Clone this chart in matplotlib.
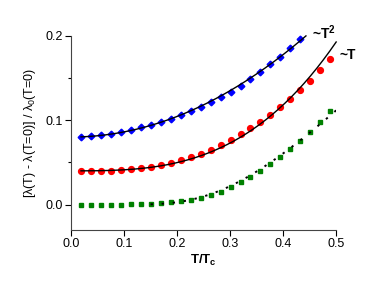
import numpy as np
import matplotlib
matplotlib.use("Agg")
import matplotlib.pyplot as plt

plt.rcParams['font.family'] = ['Liberation Sans', 'DejaVu Sans']
plt.rcParams['mathtext.fontset'] = 'custom'
plt.rcParams['mathtext.rm'] = 'Liberation Sans'
plt.rcParams['mathtext.it'] = 'Liberation Sans:italic'
plt.rcParams['mathtext.bf'] = 'Liberation Sans:bold'

# reduced temperature T/Tc of the data points
t = [0.0188, 0.0376, 0.0564, 0.0752, 0.094, 0.1128, 0.1316, 0.1504, 0.1692,
     0.188, 0.2068, 0.2256, 0.2444, 0.2632, 0.282, 0.3008, 0.3196, 0.3384,
     0.3572, 0.376, 0.3948, 0.4136, 0.4324, 0.4512, 0.47, 0.4888]

blue = [0.0805, 0.0809, 0.082, 0.0836, 0.086, 0.0884, 0.0915, 0.0939, 0.0974,
        0.1014, 0.1057, 0.1108, 0.1157, 0.1213, 0.1272, 0.1337, 0.1408,
        0.1487, 0.1566, 0.1661, 0.1751, 0.185, 0.1957]

red = [0.0398, 0.0398, 0.0398, 0.0402, 0.041, 0.0422, 0.0434, 0.045, 0.0473,
       0.0497, 0.0529, 0.056, 0.0604, 0.065, 0.0706, 0.0765, 0.0832, 0.0903,
       0.0982, 0.1065, 0.1152, 0.1254, 0.1357, 0.1467, 0.1594, 0.172]

green = [0.0, 0.0, 0.0, 0.0, 0.0, 0.0004, 0.0008, 0.0012, 0.002, 0.0028,
         0.004, 0.0055, 0.008, 0.0115, 0.0155, 0.0213, 0.0264, 0.0327,
         0.0398, 0.0477, 0.056, 0.0655, 0.0757, 0.0864, 0.0982, 0.1112]

# fit curves (parameters)
def fit_sq(x):
    return 0.08 + 0.61 * x**2

def fit_cube(x):
    return 0.04 + 1.22 * x**3

def fit_exp(x):
    return 1.28 * np.exp(-1.22 / x)

fig = plt.figure(figsize=(3.82, 2.94), dpi=100)
ax = fig.add_axes([0.186, 0.2177, 0.694, 0.661])

ax.plot(t[:len(blue)], blue, 'D', color='#0000ff', ms=3.4, mec='#0000ff',
        clip_on=False, zorder=2)
ax.plot(t, red, 'o', color='#ff0000', ms=4.2, mec='#ff0000', clip_on=False, zorder=2)
ax.plot(t, green, 's', color='#008000', ms=3.5, mec='#008000', clip_on=False, zorder=2)

x1 = np.linspace(0.0188, 0.443, 200)
ax.plot(x1, fit_sq(x1), '-', color='k', lw=1.0, clip_on=False, zorder=3)
x2 = np.linspace(0.0188, 0.5, 200)
ax.plot(x2, fit_cube(x2), '-', color='k', lw=1.0, clip_on=False, zorder=3)
x3 = np.linspace(0.15, 0.5, 200)
ax.plot(x3, fit_exp(x3), color='k', lw=1.4, dashes=(1.2, 4.5), zorder=3)

ax.text(0.455, 0.203, r'~T$^\mathbf{2}$', fontsize=10, fontweight='bold',
        va='center', ha='left', clip_on=False)
ax.text(0.507, 0.177, '~T', fontsize=10, fontweight='bold',
        va='center', ha='left', clip_on=False)

ax.set_xlim(0, 0.5)
ax.set_ylim(-0.03, 0.2)
ax.set_xticks([0.0, 0.1, 0.2, 0.3, 0.4, 0.5])
ax.set_yticks([0.0, 0.1, 0.2])
ax.set_yticks([0.05, 0.15], minor=True)
ax.set_xticklabels(['0.0', '0.1', '0.2', '0.3', '0.4', '0.5'])
ax.set_yticklabels(['0.0', '0.1', '0.2'])
ax.tick_params(axis='both', which='major', direction='out', length=4,
               width=0.8, labelsize=9, pad=2)
ax.tick_params(axis='y', which='minor', direction='out', length=2.5, width=0.8)

ax.spines['top'].set_visible(False)
ax.spines['right'].set_visible(False)
ax.spines['left'].set_color('#444444')
ax.spines['bottom'].set_color('#444444')

ax.set_xlabel(r'T/T$_\mathbf{c}$', fontsize=9.5, fontweight='bold', labelpad=2)
ax.set_ylabel(r'[λ(T) - λ(T=0)] / λ$_\mathregular{0}$(T=0)', fontsize=9, labelpad=5)

fig.savefig('out.png', dpi=100)
